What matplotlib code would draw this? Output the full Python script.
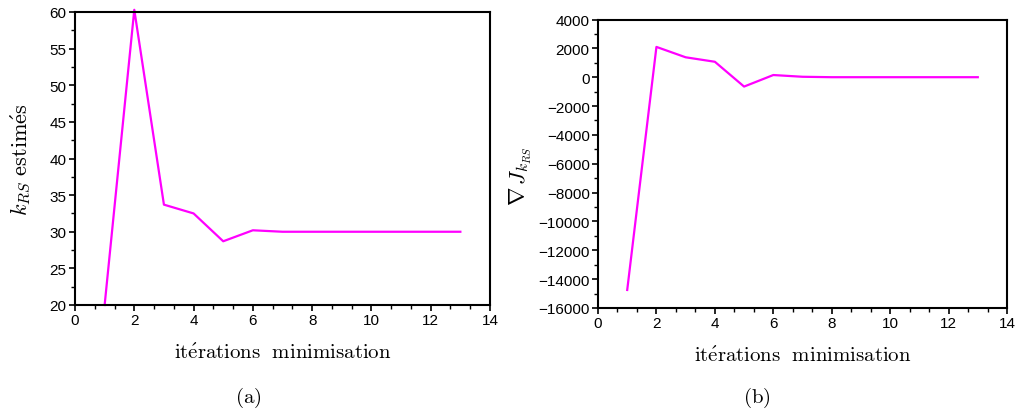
import numpy as np
import matplotlib
matplotlib.use("Agg")
import matplotlib.pyplot as plt
from matplotlib.ticker import AutoMinorLocator

# iterations de la minimisation
iterations = [1, 2, 3, 4, 5, 6, 7, 8, 9, 10, 11, 12, 13]
k_rs = [20.0, 60.3, 33.7, 32.5, 28.7, 30.2, 30.0, 30.0, 30.0, 30.0, 30.0, 30.0, 30.0]
grad_j = [-14750, 2100, 1380, 1070, -650, 150, 30, 0, 0, 0, 0, 0, 0]

plt.rcParams["mathtext.fontset"] = "cm"
plt.rcParams["font.family"] = ["Liberation Sans", "DejaVu Sans"]

fig = plt.figure(figsize=(10.17, 4.14), dpi=100)
W, H = 1017.0, 414.0
ax1 = fig.add_axes([75 / W, (H - 306) / H, 415 / W, 293 / H])
ax2 = fig.add_axes([598 / W, (H - 309) / H, 409 / W, 288.5 / H])

col = "#ff00ff"
ax1.plot(iterations, k_rs, color=col, lw=1.6, clip_on=False)
ax2.plot(iterations, grad_j, color=col, lw=1.6)

ax1.set_xlim(0, 14)
ax1.set_ylim(20, 60)
ax1.set_yticks(np.arange(20, 61, 5))
ax2.set_xlim(0, 14)
ax2.set_ylim(-16000, 4000)
ax2.set_yticks(np.arange(-16000, 4001, 2000))
ax2.set_yticklabels([str(v).replace("-", "\u2212") for v in range(-16000, 4001, 2000)])

for ax in (ax1, ax2):
    ax.set_xticks(np.arange(0, 15, 2))
    ax.xaxis.set_minor_locator(AutoMinorLocator(3))
    ax.yaxis.set_minor_locator(AutoMinorLocator(2))
    ax.tick_params(which="major", direction="out", length=4, width=1.2, labelsize=11, pad=2)
    ax.tick_params(which="minor", direction="out", length=3, width=1.0)
    for s in ax.spines.values():
        s.set_linewidth(1.5)
    ax.set_xlabel(r"$\mathrm{it\acute{e}rations\ \ minimisation}$", fontsize=15, labelpad=11)

ax1.set_ylabel(r"$k_{RS}\ \mathrm{estim\acute{e}s}$", fontsize=16, labelpad=12)
ax2.set_ylabel(r"$\nabla\, J_{k_{RS}}$", fontsize=16)
ax2.yaxis.set_label_coords(-0.158, 0.46)

fig.text(248 / W, 1 - 398 / H, r"$\mathrm{(a)}$", fontsize=15, ha="center", va="center")
fig.text(757 / W, 1 - 398 / H, r"$\mathrm{(b)}$", fontsize=15, ha="center", va="center")

fig.savefig("out.png", dpi=100)
